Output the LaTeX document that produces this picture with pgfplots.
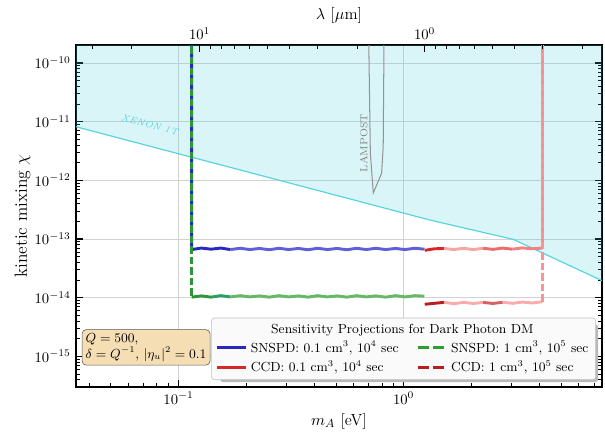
\documentclass[border=0pt]{standalone}
\usepackage{pgfplots}
\pgfplotsset{compat=1.18}

\definecolor{xefill}{RGB}{70,205,215}
\definecolor{xeline}{RGB}{85,212,224}
\definecolor{bluedk}{RGB}{40,40,195}
\definecolor{bluemd}{RGB}{95,95,215}
\definecolor{grndk}{RGB}{45,150,55}
\definecolor{grnteal}{RGB}{40,160,100}
\definecolor{grnlt}{RGB}{100,185,100}
\definecolor{reddk}{RGB}{215,40,40}
\definecolor{redpk}{RGB}{250,165,165}
\definecolor{redsal}{RGB}{235,110,110}
\definecolor{redmid}{RGB}{240,130,130}
\definecolor{ddark}{RGB}{185,30,30}
\definecolor{dpink}{RGB}{250,172,172}
\definecolor{dmid}{RGB}{215,100,100}
\definecolor{vpink}{RGB}{250,140,140}
\definecolor{boxfill}{RGB}{245,222,179}

\begin{document}
\begin{tikzpicture}
\useasboundingbox (-52pt,-32.2pt) rectangle (362.1pt,264.9pt);
\begin{axis}[
  at={(0,0)}, anchor=south west,
  width=360pt, height=234.1pt, scale only axis,
  xmode=log, ymode=log,
  xmin=0.035, xmax=7.6, ymin=2.99e-16, ymax=2.03e-10,
  xtick pos=left,
  tick align=inside,
  axis line style={line width=1.1pt},
  major tick style={black, line width=0.8pt},
  minor tick style={black, line width=0.5pt},
  major tick length=4.5pt, minor tick length=2.5pt,
  grid=major, major grid style={gray!35, line width=0.6pt},
  xlabel={$m_A$ [eV]}, ylabel={kinetic mixing $\chi$},
  xlabel style={at={(axis description cs:0.5,-0.0995)}, anchor=center,
    font=\fontsize{11}{13}\selectfont},
  ylabel style={at={(axis description cs:-0.1017,0.5)}, anchor=center,
    font=\fontsize{12}{14}\selectfont},
  legend columns=2,
  legend cell align=left,
  legend style={at={(0.9886,0.0205)}, anchor=south east,
    font=\small, fill=gray!4, draw=gray!50, rounded corners=2pt,
    /tikz/every even column/.append style={column sep=10pt}},
  legend image code/.code={\draw[#1] (0cm,0cm) -- (0.7cm,0cm);},
]
% XENON 1T excluded region
\addplot[fill=xefill, fill opacity=0.2, draw=none, forget plot] coordinates {
  (0.035,8.2e-12) (0.346,8.09e-13) (1.31,2.10e-13) (3.07,9.84e-14) (7.6,1.95e-14)
  (7.6,2.03e-10) (0.035,2.03e-10)} -- cycle;
\addplot[xeline, line width=0.8pt, forget plot] coordinates {
  (0.035,8.2e-12) (0.346,8.09e-13) (1.31,2.10e-13) (3.07,9.84e-14) (7.6,1.95e-14)};
% LAMPOST
\addplot[gray!85, line width=0.7pt, forget plot] coordinates {
  (0.696,1e-9) (0.711,2.92e-12) (0.733,6.1e-13) (0.798,1.32e-12) (0.811,3.74e-12) (0.820,1e-9)};

% SNSPD 0.1 cm3
\addplot[bluedk, line width=2pt, forget plot] coordinates {
  (0.1143,1e-9) (0.1143,6.6e-14) (0.1262,7.0e-14) (0.1394,6.7e-14) (0.1539,7.0e-14) (0.1700,6.6e-14)};
\addplot[bluemd, line width=2pt, forget plot] coordinates {
  (0.1700,6.6e-14) (0.1877,6.95e-14) (0.2073,6.6e-14) (0.2289,6.9e-14) (0.2528,6.55e-14)
  (0.2792,6.95e-14) (0.3083,6.6e-14) (0.3405,6.9e-14) (0.3760,6.55e-14) (0.4152,6.95e-14)
  (0.4585,6.6e-14) (0.5063,6.9e-14) (0.5591,6.55e-14) (0.6175,6.95e-14) (0.6819,6.6e-14)
  (0.7530,6.95e-14) (0.8315,6.6e-14) (0.9183,6.9e-14) (1.0141,6.6e-14) (1.1198,6.95e-14) (1.2366,6.7e-14)};

% SNSPD 1 cm3
\addplot[grndk, line width=2.2pt, dash pattern=on 5pt off 2.2pt, forget plot] coordinates {
  (0.1143,1e-9) (0.1143,1.02e-14)};
\addplot[grndk, line width=2pt, forget plot] coordinates {
  (0.1143,1.02e-14) (0.1262,1.07e-14) (0.1394,1.02e-14)};
\addplot[grnteal, line width=2pt, forget plot] coordinates {
  (0.1394,1.02e-14) (0.1539,1.08e-14) (0.1700,1.03e-14)};
\addplot[grnlt, line width=2pt, forget plot] coordinates {
  (0.1700,1.03e-14) (0.1877,1.08e-14) (0.2073,1.03e-14) (0.2289,1.07e-14) (0.2528,1.02e-14)
  (0.2792,1.08e-14) (0.3083,1.03e-14) (0.3405,1.07e-14) (0.3760,1.02e-14) (0.4152,1.08e-14)
  (0.4585,1.03e-14) (0.5063,1.07e-14) (0.5591,1.02e-14) (0.6175,1.08e-14) (0.6819,1.03e-14)
  (0.7530,1.07e-14) (0.8315,1.02e-14) (0.9183,1.08e-14) (1.0141,1.03e-14) (1.1198,1.08e-14) (1.2366,1.06e-14)};

% CCD 0.1 cm3
\addplot[reddk, line width=2pt, forget plot] coordinates {
  (1.24,6.4e-14) (1.3667,6.8e-14) (1.5105,6.9e-14)};
\addplot[redpk, line width=2pt, forget plot] coordinates {
  (1.5105,6.9e-14) (1.6694,6.6e-14) (1.8450,6.95e-14) (2.0391,6.6e-14) (2.2536,6.95e-14)};
\addplot[redsal, line width=2pt, forget plot] coordinates {
  (2.2536,6.95e-14) (2.4907,6.65e-14) (2.7527,7.0e-14) (3.0423,6.7e-14)};
\addplot[redmid, line width=2pt, forget plot] coordinates {
  (3.0423,6.7e-14) (3.3623,7.05e-14) (3.7160,6.8e-14) (4.13,7.0e-14)};
\addplot[vpink, line width=2pt, forget plot] coordinates {(4.13,7.0e-14) (4.13,1e-9)};

% CCD 1 cm3
\addplot[ddark, line width=2pt, forget plot] coordinates {
  (1.24,7.7e-15) (1.3667,8.0e-15) (1.5105,8.3e-15)};
\addplot[dpink, line width=2pt, forget plot] coordinates {
  (1.5105,8.3e-15) (1.6694,7.9e-15) (1.8450,8.3e-15) (2.0391,7.95e-15) (2.2536,8.3e-15)};
\addplot[dmid, line width=2pt, forget plot] coordinates {
  (2.2536,8.3e-15) (2.4907,7.95e-15) (2.7527,8.35e-15)};
\addplot[dpink, line width=2pt, forget plot] coordinates {
  (2.7527,8.35e-15) (3.0423,8.0e-15) (3.3623,8.4e-15) (3.7160,8.1e-15) (4.13,8.5e-15)};
\addplot[redpk!90!red, line width=2.2pt, dash pattern=on 5pt off 2.2pt, forget plot] coordinates {
  (4.13,8.5e-15) (4.13,1e-9)};

\node[rotate=-15, text=xeline, font=\fontsize{6.5}{8}\selectfont\itshape] at (axis cs:0.0745,8.9e-12) {XENON 1T};
\node[rotate=90, text=gray, font=\scriptsize] at (axis cs:0.665,4.3e-12) {LAMPOST};
\node[anchor=south west, fill=boxfill, draw=gray!70!black, rounded corners=3pt,
  align=left, font=\fontsize{9}{11}\selectfont, inner sep=2.5pt]
  at (rel axis cs:0.011,0.063) {$Q=500$,\\ $\delta=Q^{-1}$, $|\eta_u|^2=0.1$};
% legend shadow
\fill[gray!55, rounded corners=2pt]
  ([xshift=1.5pt,yshift=-1.5pt]rel axis cs:0.27,0.0205) rectangle
  ([xshift=1.5pt,yshift=-1.5pt]rel axis cs:0.9886,0.19);

\addlegendimage{empty legend}
\addlegendentry{\makebox[0pt][l]{\hspace{14pt}Sensitivity Projections for Dark Photon DM}}
\addlegendimage{empty legend}
\addlegendentry{}
\addlegendimage{bluedk, line width=2pt}
\addlegendentry{SNSPD: 0.1 cm$^3$, $10^4$ sec}
\addlegendimage{grndk!90!green, line width=2pt, dash pattern=on 7.5pt off 3.2pt}
\addlegendentry{SNSPD: 1 cm$^3$, $10^5$ sec}
\addlegendimage{reddk, line width=2pt}
\addlegendentry{CCD: 0.1 cm$^3$, $10^4$ sec}
\addlegendimage{ddark, line width=2pt, dash pattern=on 7.5pt off 3.2pt}
\addlegendentry{CCD: 1 cm$^3$, $10^5$ sec}
\end{axis}

\begin{axis}[
  at={(0,0)}, anchor=south west,
  width=360pt, height=234.1pt, scale only axis,
  xmode=log, x dir=reverse, xmin=0.16314, xmax=35.42,
  ymin=0, ymax=1,
  axis x line*=top, hide y axis,
  x axis line style={draw=none},
  tick align=inside,
  major tick style={black, line width=0.8pt},
  minor tick style={black, line width=0.5pt},
  major tick length=4.5pt, minor tick length=2.5pt,
  xlabel={$\lambda$ [$\mu$m]},
  xlabel style={at={(axis description cs:0.5,1.0854)}, anchor=center,
    font=\fontsize{11}{13}\selectfont},
]
\addplot[draw=none] coordinates {(1,0.5)};
\end{axis}
\end{tikzpicture}
\end{document}
